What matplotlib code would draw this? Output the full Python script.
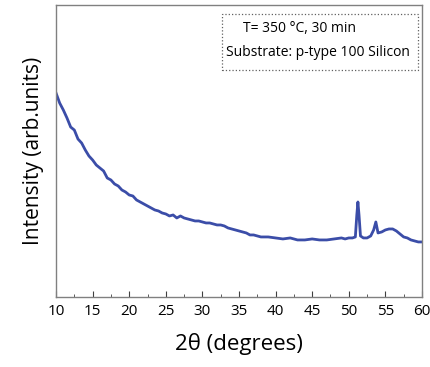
import matplotlib.pyplot as plt
from matplotlib.patches import Rectangle

# XRD scan (intensity in arbitrary units)
two_theta = [10.0, 10.5, 11.0, 11.5, 12.0, 12.5, 13.0, 13.5, 14.0, 14.5,
             15.0, 15.5, 16.0, 16.5, 17.0, 17.5, 18.0, 18.5, 19.0, 19.5,
             20.0, 20.5, 21.0, 21.5, 22.0, 22.5, 23.0, 23.5, 24.0, 24.5,
             25.0, 25.5, 26.0, 26.5, 27.0, 27.5, 28.0, 28.5, 29.0, 29.5,
             30.0, 30.5, 31.0, 31.5, 32.0, 32.5, 33.0, 33.5, 34.0, 34.5,
             35.0, 35.5, 36.0, 36.5, 37.0, 37.5, 38.0, 39.0, 40.0, 41.0,
             42.0, 43.0, 44.0, 45.0, 46.0, 47.0, 48.0, 49.0, 49.5, 50.0,
             50.5, 50.9, 51.1, 51.25, 51.4, 51.6, 52.0, 52.5, 53.0, 53.4,
             53.7, 54.0, 54.5, 55.0, 55.5, 56.0, 56.5, 57.0, 57.5, 58.0,
             58.5, 59.0, 59.5, 60.0]
intensity = [204, 194, 187, 179, 170, 167, 158, 154, 147, 141,
             137, 132, 129, 126, 119, 117, 113, 111, 107, 105,
             102, 101, 97, 95, 93, 91, 89, 87, 86, 84,
             83, 81, 82, 79, 81, 79, 78, 77, 76, 76,
             75, 74, 74, 73, 72, 72, 71, 69, 68, 67,
             66, 65, 64, 62, 62, 61, 60, 60, 59, 58,
             59, 57, 57, 58, 57, 57, 58, 59, 58, 59,
             59, 60, 82, 95, 82, 61, 59, 59, 61, 67,
             75, 64, 65, 67, 68, 68, 66, 63, 60, 59,
             57, 56, 55, 55]

x_ticks = [10, 15, 20, 25, 30, 35, 40, 45, 50, 55, 60]
note_lines = ["T= 350 °C, 30 min", "Substrate: p-type 100 Silicon"]

plt.rcParams['font.family'] = ['Open Sans', 'DejaVu Sans']

fig = plt.figure(figsize=(4.31, 3.67), dpi=100)
ax = fig.add_axes([0.130, 0.191, 0.849, 0.795])

ax.plot(two_theta, intensity, color='#3b4da8', linewidth=2.0)

ax.set_xlim(10, 60)
ax.set_ylim(0, 292)
ax.set_xticks(x_ticks)
ax.set_xticks([t + 2.5 for t in x_ticks[:-1]], minor=True)
ax.set_yticks([])
ax.tick_params(axis='x', which='major', direction='in', length=4, color='#404040',
               labelsize=11, pad=5)
ax.tick_params(axis='x', which='minor', direction='in', length=2.5, color='#404040')
for s in ax.spines.values():
    s.set_color('#808080')
    s.set_linewidth(1.0)

ax.set_xlabel('2θ (degrees)', fontsize=16, labelpad=10)
ax.set_ylabel('Intensity (arb.units)', fontsize=15, labelpad=9)

# dotted note box
ax.add_patch(Rectangle((0.454, 0.777), 0.535, 0.192, transform=ax.transAxes,
                       fill=False, linestyle=':', linewidth=0.9, edgecolor='#606060'))
ax.text(0.664, 0.921, note_lines[0], transform=ax.transAxes, ha='center', va='center',
        fontsize=10)
ax.text(0.716, 0.838, note_lines[1], transform=ax.transAxes, ha='center', va='center',
        fontsize=10)

fig.savefig('out.png', dpi=100)
